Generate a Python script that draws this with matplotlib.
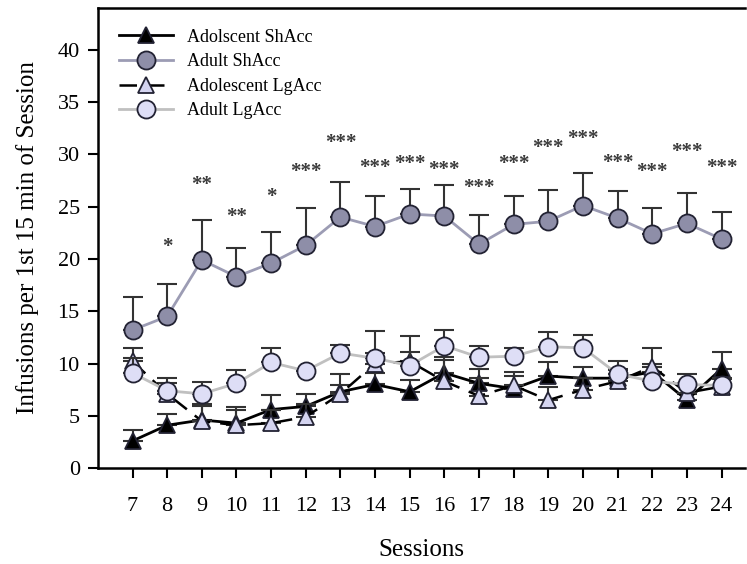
import numpy as np
import matplotlib
matplotlib.use("Agg")
import matplotlib.pyplot as plt

plt.rcParams['font.family'] = ['Liberation Serif', 'DejaVu Serif']

sessions = np.arange(7, 25)

# Adolescent ShAcc (black triangles)
adol_sh = [2.6, 4.1, 4.6, 4.3, 5.6, 5.9, 7.3, 8.0, 7.3, 9.1, 8.1, 7.6, 8.8, 8.6, 8.6, 9.2, 6.5, 9.5]
adol_sh_err = [1.0, 1.1, 1.3, 1.5, 1.4, 1.2, 1.7, 1.1, 1.1, 1.2, 1.4, 1.2, 1.3, 1.1, 0.9, 0.8, 0.6, 1.6]

# Adult ShAcc (dark circles)
adult_sh = [13.2, 14.5, 19.9, 18.3, 19.6, 21.3, 24.0, 23.1, 24.3, 24.1, 21.4, 23.3, 23.6, 25.1, 23.9, 22.4, 23.4, 21.9]
adult_sh_err = [3.2, 3.1, 3.8, 2.7, 3.0, 3.6, 3.4, 2.9, 2.4, 3.0, 2.8, 2.7, 3.0, 3.1, 2.6, 2.5, 2.9, 2.6]

# Adolescent LgAcc (light triangles)
adol_lg = [10.2, 7.1, 4.5, 4.1, 4.3, 4.9, 7.1, 10.0, 10.2, 8.3, 6.9, 7.9, 6.5, 7.5, 8.3, 9.7, 7.2, 7.8]
adol_lg_err = [1.3, 1.0, 1.6, 1.5, 1.3, 1.2, 0.8, 1.0, 0.9, 2.3, 1.7, 1.3, 1.3, 1.1, 1.1, 1.8, 0.9, 0.8]

# Adult LgAcc (light circles)
adult_lg = [9.1, 7.4, 7.1, 8.1, 10.1, 9.3, 11.0, 10.5, 9.8, 11.7, 10.6, 10.7, 11.6, 11.5, 9.0, 8.3, 8.0, 7.9]
adult_lg_err = [1.4, 1.2, 1.1, 1.3, 1.4, 0.0, 0.8, 2.6, 2.8, 1.5, 1.1, 0.8, 1.4, 1.2, 1.2, 0.0, 1.0, 0.6]

# significance marks above Adult ShAcc
star_sessions = [8, 9, 10, 11, 12, 13, 14, 15, 16, 17, 18, 19, 20, 21, 22, 23, 24]
star_labels = ['*', '**', '**', '*', '***', '***', '***', '***', '***', '***', '***', '***', '***', '***', '***', '***', '***']
star_y = [21.1, 27.1, 24.0, 25.9, 28.3, 31.1, 28.7, 29.1, 28.5, 26.8, 29.1, 30.6, 31.5, 29.2, 28.3, 30.2, 28.7]

fig = plt.figure(figsize=(7.47, 5.64), dpi=100)
ax = fig.add_axes([0.131, 0.170, 0.866, 0.816])

errc = '#333333'


def series(y, e, marker, ms, fc, lc, ls, lw, label, z):
    ax.errorbar(sessions, y, yerr=[np.zeros(len(e)), e], fmt='none',
                ecolor=errc, elinewidth=1.5, capsize=7, capthick=1.5, zorder=z)
    ax.plot(sessions, y, color=lc, ls=ls, lw=lw, marker=marker, ms=ms,
            mfc=fc, mec='#222233', mew=1.3, label=label, zorder=z + 0.5,
            dashes=(7, 4) if ls == '--' else (None, None))


series(adol_sh, adol_sh_err, '^', 12, 'black', 'black', '-', 2.0, 'Adolscent ShAcc', 2)
series(adol_lg, adol_lg_err, '^', 12, '#d4d4f0', 'black', '--', 1.8, 'Adolescent LgAcc', 3)
series(adult_lg, adult_lg_err, 'o', 13, '#dedef6', '#c0c0c0', '-', 2.0, 'Adult LgAcc', 4)
series(adult_sh, adult_sh_err, 'o', 13, '#8e8ea8', '#9c9cb4', '-', 2.0, 'Adult ShAcc', 5)

for s, lab, yy in zip(star_sessions, star_labels, star_y):
    ax.text(s, yy, lab, ha='center', va='center', fontsize=15,
            fontweight='bold', color='#3a3a3a')

ax.set_xlim(6, 24.67)
ax.set_ylim(0, 44)
ax.set_xticks(sessions)
ax.set_yticks(np.arange(0, 45, 5))
ax.spines['right'].set_visible(False)
for sp in ['left', 'bottom', 'top']:
    ax.spines[sp].set_linewidth(1.8)
ax.tick_params(direction='out', length=7, width=1.5, labelsize=16)
ax.tick_params(axis='x', pad=14)
ax.tick_params(axis='y', pad=6)
ax.set_xlabel('Sessions', fontsize=18, labelpad=16)
ax.set_ylabel('Infusions per 1st 15 min of Session', fontsize=18, labelpad=13)

h, l = ax.get_legend_handles_labels()
order = [l.index('Adolscent ShAcc'), l.index('Adult ShAcc'),
         l.index('Adolescent LgAcc'), l.index('Adult LgAcc')]
ax.legend([h[i] for i in order], [l[i] for i in order], loc='upper left',
          frameon=False, fontsize=13, handlelength=3.0, handletextpad=0.8,
          borderaxespad=0.75, labelspacing=0.42)

fig.savefig('out.png', dpi=100)
